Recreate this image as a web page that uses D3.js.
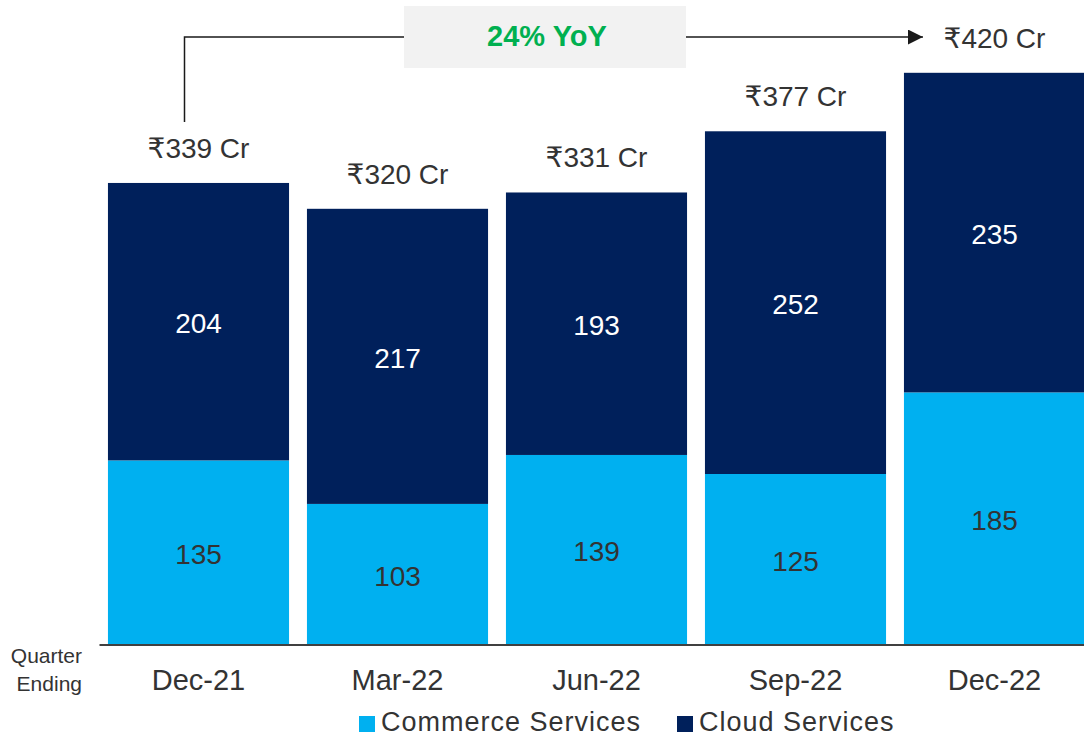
<!DOCTYPE html>
<html>
<head>
<meta charset="utf-8">
<script src="https://cdn.jsdelivr.net/npm/d3@7"></script>
<style>
  body { margin: 0; background: #fff; }
  svg { display: block; font-family: "Liberation Sans", Arial, "DejaVu Sans", sans-serif; }
</style>
</head>
<body>
<div id="chart"></div>
<script>
// data
const quarters = ["Dec-21", "Mar-22", "Jun-22", "Sep-22", "Dec-22"];
const commerce = [135, 103, 139, 125, 185];
const cloud = [204, 217, 193, 252, 235];
const totals = [339, 320, 331, 377, 420];
const seriesNames = ["Commerce Services", "Cloud Services"];
const growthLabel = "24% YoY";

const width = 1084, height = 737;
const colors = { "Commerce Services": "#00b0f0", "Cloud Services": "#00205b" };
const labelColors = { "Commerce Services": "#333", "Cloud Services": "#fff" };

const svg = d3.select("#chart").append("svg")
  .attr("width", width)
  .attr("height", height);

const x = d3.scaleBand()
  .domain(quarters)
  .range([99, 1094])
  .paddingInner(0.09)
  .paddingOuter(0.045);

const y = d3.scaleLinear()
  .domain([0, 420])
  .range([644, 72.8]);

// stacked layout
const rows = quarters.map((q, i) => ({ q: q, "Commerce Services": commerce[i], "Cloud Services": cloud[i] }));
const stacked = d3.stack().keys(seriesNames)(rows);

const layers = svg.append("g").selectAll("g")
  .data(stacked)
  .join("g")
  .attr("fill", d => colors[d.key]);

layers.selectAll("rect")
  .data(d => d)
  .join("rect")
  .attr("x", d => x(d.data.q))
  .attr("y", d => y(d[1]))
  .attr("width", x.bandwidth())
  .attr("height", d => y(d[0]) - y(d[1]));

// segment values
layers.each(function(layer) {
  d3.select(this).selectAll("text")
    .data(layer)
    .join("text")
    .attr("x", d => x(d.data.q) + x.bandwidth() / 2)
    .attr("y", d => (y(d[0]) + y(d[1])) / 2)
    .attr("dy", "0.42em")
    .attr("text-anchor", "middle")
    .attr("fill", labelColors[layer.key])
    .style("font-size", "28px")
    .text(d => d[1] - d[0]);
});

// totals above bars
svg.append("g").selectAll("text")
  .data(quarters)
  .join("text")
  .attr("x", q => x(q) + x.bandwidth() / 2)
  .attr("y", (q, i) => y(stacked[1][i][1]) - 25)
  .attr("text-anchor", "middle")
  .attr("fill", "#333")
  .style("font-size", "28px")
  .text((q, i) => "₹" + totals[i] + " Cr");

// x axis
const axis = svg.append("g")
  .attr("transform", "translate(0,644.5)")
  .call(d3.axisBottom(x).tickSize(0).tickPadding(25));
axis.select(".domain").attr("stroke", "#404040").attr("stroke-width", 2);
axis.selectAll("text")
  .attr("fill", "#333")
  .style("font-size", "29px")
  .style("font-family", "\"Liberation Sans\", Arial, sans-serif");

svg.append("text")
  .attr("x", 82).attr("y", 663)
  .attr("text-anchor", "end")
  .attr("fill", "#333")
  .style("font-size", "21px")
  .text("Quarter");
svg.append("text")
  .attr("x", 82).attr("y", 691)
  .attr("text-anchor", "end")
  .attr("fill", "#333")
  .style("font-size", "21px")
  .text("Ending");

// growth arrow
const first = quarters[0], last = quarters[quarters.length - 1];
const ax = x(first) + x.bandwidth() / 2 - 14;
const ay = 37;
const boxX = 404, boxW = 282;

svg.append("defs").append("marker")
  .attr("id", "arrow")
  .attr("viewBox", "0 0 10 10")
  .attr("refX", 10).attr("refY", 5)
  .attr("markerWidth", 15).attr("markerHeight", 15)
  .attr("markerUnits", "userSpaceOnUse")
  .attr("orient", "auto")
  .append("path")
  .attr("d", "M0,0L10,5L0,10Z")
  .attr("fill", "#1a1a1a");

svg.append("path")
  .attr("d", `M${ax},122V${ay}H${boxX}`)
  .attr("fill", "none")
  .attr("stroke", "#1a1a1a")
  .attr("stroke-width", 1.5);

svg.append("path")
  .attr("d", `M${boxX + boxW},${ay}H${x(last) + 19}`)
  .attr("fill", "none")
  .attr("stroke", "#1a1a1a")
  .attr("stroke-width", 1.5)
  .attr("marker-end", "url(#arrow)");

svg.append("rect")
  .attr("x", boxX).attr("y", 6)
  .attr("width", boxW).attr("height", 62)
  .attr("fill", "#f2f2f2");

svg.append("text")
  .attr("x", boxX + boxW / 2 + 2).attr("y", 46)
  .attr("text-anchor", "middle")
  .attr("fill", "#00b050")
  .style("font-size", "29px")
  .style("font-weight", "bold")
  .text(growthLabel);

// legend
const legendPos = [359, 677];
const legend = svg.append("g").selectAll("g")
  .data(seriesNames)
  .join("g")
  .attr("transform", (d, i) => `translate(${legendPos[i]},716)`);
legend.append("rect")
  .attr("width", 16).attr("height", 16)
  .attr("fill", d => colors[d]);
legend.append("text")
  .attr("x", 22).attr("y", 15)
  .attr("fill", "#333")
  .style("font-size", "27px")
  .style("letter-spacing", "1px")
  .text(d => d);
</script>
</body>
</html>
